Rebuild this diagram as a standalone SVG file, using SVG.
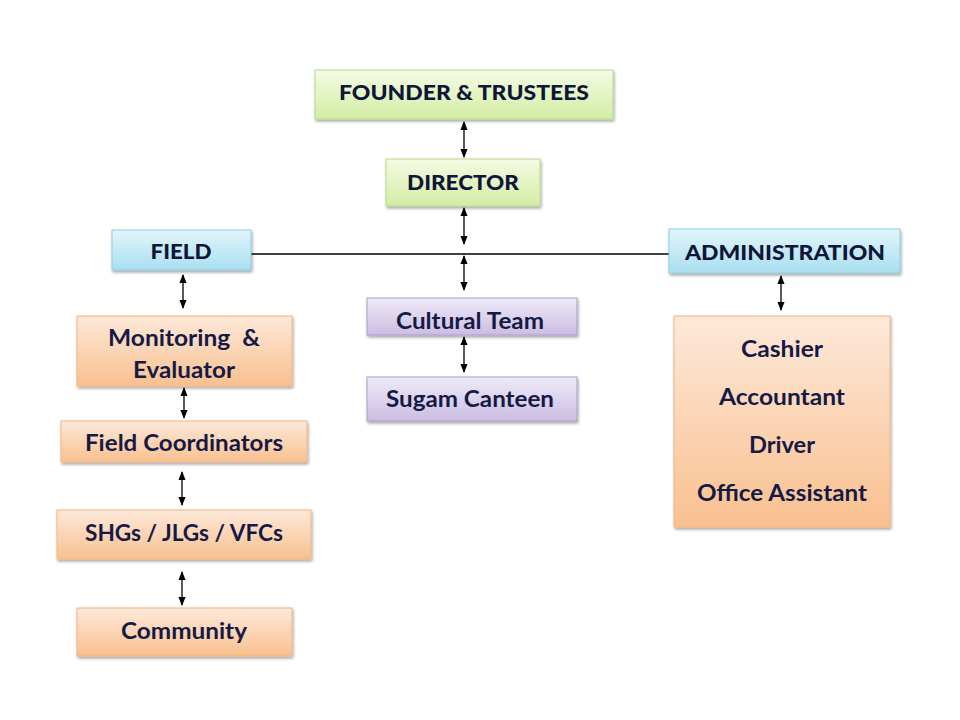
<svg xmlns="http://www.w3.org/2000/svg" width="960" height="720" viewBox="0 0 960 720">
<defs>
<linearGradient id="gGreen" x1="0" y1="0" x2="0" y2="1"><stop offset="0" stop-color="#f4fbe4"/><stop offset="1" stop-color="#d4eca4"/></linearGradient>
<linearGradient id="gBlue" x1="0" y1="0" x2="0" y2="1"><stop offset="0" stop-color="#e2f5fb"/><stop offset="1" stop-color="#a9dff0"/></linearGradient>
<linearGradient id="gPurple" x1="0" y1="0" x2="0" y2="1"><stop offset="0" stop-color="#efeaf7"/><stop offset="1" stop-color="#cbbde3"/></linearGradient>
<linearGradient id="gOrange" x1="0" y1="0" x2="0" y2="1"><stop offset="0" stop-color="#fde9da"/><stop offset="1" stop-color="#f9c08f"/></linearGradient>
<filter id="sh" x="-10%" y="-10%" width="120%" height="130%"><feDropShadow dx="1" dy="2" stdDeviation="1.5" flood-color="#000" flood-opacity="0.35"/></filter>
<marker id="ah" viewBox="0 0 10 10" refX="9" refY="5" markerWidth="9" markerHeight="9" markerUnits="userSpaceOnUse" orient="auto-start-reverse"><path d="M0,1 L10,5 L0,9 z" fill="#000"/></marker>
</defs>
<style>
.green{fill:url(#gGreen);stroke:#b8d98a;stroke-width:1;filter:url(#sh)}
.blue{fill:url(#gBlue);stroke:#8fcde2;stroke-width:1;filter:url(#sh)}
.purple{fill:url(#gPurple);stroke:#ab9dcb;stroke-width:1;filter:url(#sh)}
.orange{fill:url(#gOrange);stroke:#f2b483;stroke-width:1;filter:url(#sh)}
text{font-family:Lato,"Liberation Sans",sans-serif;font-weight:700;fill:#151a45;text-anchor:middle;dominant-baseline:central}
.hd{font-weight:900;font-size:21px;fill:#0f1638}
.tx{font-size:22px}
.con line{stroke:#000;stroke-width:1.3;fill:none}
.con .a{marker-start:url(#ah);marker-end:url(#ah)}
</style>
<rect width="960" height="720" fill="#fff"/>
<g class="con">
<line x1="251" y1="254" x2="669" y2="254"/>
<line class="a" x1="464" y1="122" x2="464" y2="157"/>
<line class="a" x1="464" y1="208" x2="464" y2="244"/>
<line class="a" x1="464" y1="256" x2="464" y2="290"/>
<line class="a" x1="464" y1="337" x2="464" y2="372"/>
<line class="a" x1="781" y1="276" x2="781" y2="310"/>
<line class="a" x1="183" y1="275" x2="183" y2="308"/>
<line class="a" x1="184" y1="388" x2="184" y2="418"/>
<line class="a" x1="182" y1="472" x2="182" y2="505"/>
<line class="a" x1="182" y1="572" x2="182" y2="605"/>
</g>
<g id="founder"><rect class="green" x="315" y="70" width="298" height="49"/><text class="hd" x="464" y="91" textLength="250" lengthAdjust="spacingAndGlyphs">FOUNDER &amp; TRUSTEES</text></g>
<g id="director"><rect class="green" x="386" y="159" width="154" height="47"/><text class="hd" x="463" y="181" textLength="112" lengthAdjust="spacingAndGlyphs">DIRECTOR</text></g>
<g id="field"><rect class="blue" x="112" y="230" width="139" height="40"/><text class="hd" x="181" y="250" textLength="61" lengthAdjust="spacingAndGlyphs">FIELD</text></g>
<g id="administration"><rect class="blue" x="669" y="229" width="231" height="44"/><text class="hd" x="785" y="251" textLength="200" lengthAdjust="spacingAndGlyphs">ADMINISTRATION</text></g>
<g id="cultural-team"><rect class="purple" x="367" y="298" width="210" height="37"/><text class="tx" x="470" y="320" textLength="148" lengthAdjust="spacingAndGlyphs">Cultural Team</text></g>
<g id="sugam-canteen"><rect class="purple" x="367" y="377" width="210" height="44"/><text class="tx" x="470" y="398" textLength="168" lengthAdjust="spacingAndGlyphs">Sugam Canteen</text></g>
<g id="admin-staff"><rect class="orange" x="674" y="316" width="216" height="211"/>
<text class="tx" x="782" y="348" textLength="82" lengthAdjust="spacingAndGlyphs">Cashier</text>
<text class="tx" x="782" y="396" textLength="126" lengthAdjust="spacingAndGlyphs">Accountant</text>
<text class="tx" x="782" y="444" textLength="66" lengthAdjust="spacingAndGlyphs">Driver</text>
<text class="tx" x="782" y="492" textLength="170" lengthAdjust="spacingAndGlyphs">Office Assistant</text></g>
<g id="monitoring"><rect class="orange" x="77" y="316" width="215" height="70"/>
<text class="tx" x="184" y="337" textLength="152" lengthAdjust="spacingAndGlyphs" xml:space="preserve">Monitoring  &amp;</text>
<text class="tx" x="184" y="369" textLength="102" lengthAdjust="spacingAndGlyphs">Evaluator</text></g>
<g id="field-coordinators"><rect class="orange" x="61" y="421" width="246" height="41"/><text class="tx" x="184" y="442" textLength="198" lengthAdjust="spacingAndGlyphs">Field Coordinators</text></g>
<g id="shgs"><rect class="orange" x="57" y="510" width="254" height="49"/><text class="tx" x="184" y="532" textLength="198" lengthAdjust="spacingAndGlyphs">SHGs / JLGs / VFCs</text></g>
<g id="community"><rect class="orange" x="77" y="608" width="215" height="48"/><text class="tx" x="184" y="630" textLength="126" lengthAdjust="spacingAndGlyphs">Community</text></g>
</svg>
